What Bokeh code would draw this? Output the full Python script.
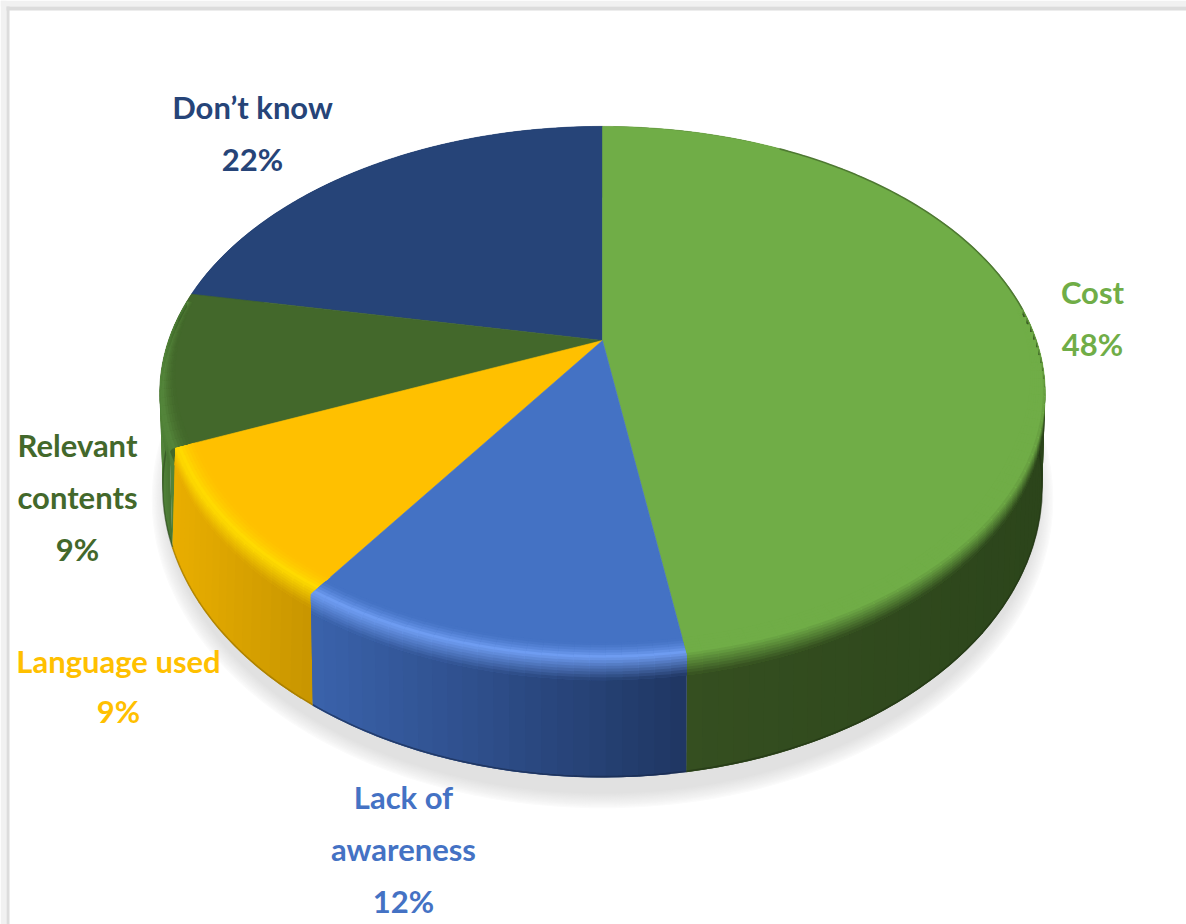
import numpy as np
from bokeh.plotting import figure
from bokeh.models import Range1d
from bokeh.core.properties import value
from bokeh.embed import file_html
from bokeh.resources import INLINE

# ---- data ----
categories = ["Cost", "Lack of awareness", "Language used", "Relevant contents", "Don\u2019t know"]
shares = [47.5, 12.0, 9.1, 9.4, 22.0]          # slice sizes as drawn
pct_labels = ["48%", "12%", "9%", "9%", "22%"]  # printed labels
label_lines = [["Cost", "48%"], ["Lack of", "awareness", "12%"], ["Language used", "9%"],
               ["Relevant", "contents", "9%"], ["Don\u2019t know", "22%"]]
label_cx = [1092, 403, 118, 77, 252]
label_base = [291, 796, 660, 444, 106]
label_colors = ["#70ad47", "#4472c4", "#ffc000", "#43682b", "#264478"]
face_colors = ["#70ad47", "#4472c4", "#ffc000", "#43682b", "#264478"]
rim_colors = ["#70ad47", "#6f9df2", "#ffdb00", "#53853a", "#264478"]
wall_from = ["#354f20", "#3a62ab", "#e9ae00", "#52833a", "#1c335b"]
wall_to = ["#2c451b", "#1f3662", "#c79500", "#3a6026", "#1c335b"]
radius = [1.0, 1.0, 0.988, 1.0, 1.0]
wall_order = [4, 3, 2, 0, 1]
face_order = [4, 3, 2, 0, 1]

W, H = 1186, 924
CX = 602
k = 0.198


def top(r, th):
    u, v = r * np.sin(th), r * np.cos(th)
    d = 1 + k * v
    return CX + 434 * u / d, 340 - 256.5 * v / d


def bottom(r, th):
    u, v = r * np.sin(th), r * np.cos(th)
    d = 1 + k * v
    return CX + 431 * u / d, 429.6 - 278.7 * v / d


def hex2rgb(c):
    return np.array([int(c[i:i + 2], 16) for i in (1, 3, 5)], float)


def mix(a, b, t):
    c = hex2rgb(a) * (1 - t) + hex2rgb(b) * t
    return "#%02x%02x%02x" % tuple(int(round(x)) for x in c)


def wall_color(idx, xm):
    spans = {0: (688, 350), 1: (313, 375), 2: (175, 140)}
    x0, dx = spans.get(idx, (160, 20))
    return mix(wall_from[idx], wall_to[idx], float(np.clip((xm - x0) / dx, 0, 1)))


p = figure(width=W, height=H, x_range=Range1d(0, W), y_range=Range1d(H, 0),
           x_axis_location=None, y_axis_location=None, toolbar_location=None,
           output_backend="svg", min_border=0, outline_line_color=None,
           background_fill_color="#ffffff", border_fill_color="#ffffff")
p.grid.visible = False

# ---- frame of the screenshot ----
p.quad(left=[0, 0], right=[6, W], top=[0, 0], bottom=[H, 6], fill_color="#f1f1f1", line_color=None)
p.quad(left=[6, 6], right=[9, W], top=[6, 6], bottom=[H, 10], fill_color="#dcdcdc", line_color=None)

# ---- soft shadow ----
n_sh = 14
ts = np.linspace(0, 2 * np.pi, 240)
for i in range(n_sh):
    t = i / (n_sh - 1)
    rx = 452 - 16 * t
    ry = 310 - 16 * t
    p.patch(CX + rx * np.sin(ts), 499 + ry * np.cos(ts), fill_color=mix("#ffffff", "#e1e1e1", t ** 0.8), line_color=None)

fr = np.cumsum([0] + shares) / sum(shares)
ang = 2 * np.pi * fr
STEP = 0.03

# ---- walls: each strip reaches under the next one, so no seams show ----
xs, ys, cs = [], [], []
for idx in wall_order:
    a0, a1 = ang[idx], ang[idx + 1]
    if idx == 3:
        # closes the small wedge between this wall and the slightly smaller next slice
        tx0, ty0 = top(1.0, a0)
        tx1, ty1 = top(radius[2], a0 - 0.02)
        bx0, by0 = bottom(1.0, a0)
        xs.append([tx0, tx1, bx0])
        ys.append([ty0, ty1, by0])
        cs.append(wall_from[3])
    n = max(6, int((a1 - a0) / STEP))
    e = np.linspace(a0, a1, n + 1)
    for j in range(n):
        q0, q1 = e[j], e[min(j + 2, n)]
        x0, y0 = top(radius[idx], q0)
        x1, y1 = top(radius[idx], q1)
        x2, y2 = bottom(1.0, q1)
        x3, y3 = bottom(1.0, q0)
        xs.append([x0, x1, x2, x3])
        ys.append([y0, y1, y2, y3])
        cs.append(wall_color(idx, (x0 + top(radius[idx], e[j + 1])[0]) / 2))
p.patches(xs, ys, fill_color=cs, line_color=None)

# ---- dark bottom edge of the walls ----
for idx in (3, 2, 1, 0):
    q = np.linspace(ang[idx], ang[idx + 1], 60)
    ex, ey = bottom(1.0, q)
    vis = np.cos(q) < 0.1
    if vis.any():
        p.line(ex[vis], ey[vis] - 1, line_color=mix(wall_to[idx], "#000000", 0.25), line_width=1.6, line_alpha=0.6)

# ---- top faces ----
for idx in face_order:
    a0 = ang[idx] - (0.06 if idx == 3 else 0.0)  # runs on under the slightly smaller next slice
    q = np.linspace(a0, ang[idx + 1], 140)
    ex, ey = top(radius[idx], q)
    cx0, cy0 = top(0.0, 0.0)
    p.patch(np.r_[cx0, ex], np.r_[cy0, ey], fill_color=face_colors[idx], line_color=face_colors[idx], line_width=0.6)

# ---- thin dark edge along the back of the largest slice ----
q = np.linspace(0.5, 1.45, 70)
ex, ey = top(0.999, q)
p.line(ex, ey, line_color="#3f6328", line_width=1.6, line_alpha=0.65)

# ---- bevel between the faces and the walls ----
xs, ys, cs = [], [], []
NS = 14
for idx in (3, 2, 0, 1):
    a0, a1 = ang[idx], ang[idx + 1]
    n = max(6, int((a1 - a0) / STEP))
    e = np.linspace(a0, a1, n + 1)
    R = radius[idx]
    for j in range(n):
        qm = (e[j] + e[j + 1]) / 2
        if np.cos(qm) > 0.12:
            continue
        q0, q1 = e[j], e[min(j + 2, n)]
        f = float(np.clip((0.4 - np.cos(qm)) / 0.8, 0.3, 1.0))
        wall = wall_color(idx, top(R, qm)[0])

        def pt(w, qq):
            # w in 0..0.5 runs over the face, 0.5..1 runs down the wall
            if w <= 0.5:
                return top(R - 0.045 * f * (1 - w / 0.5), qq)
            tx, ty = top(R, qq)
            bx, by = bottom(1.0, qq)
            h = (w - 0.5) / 0.5 * 0.17 * f
            return tx + (bx - tx) * h, ty + (by - ty) * h

        for s in range(NS):
            w0, w1 = s / NS, min(s + 2, NS) / NS
            wm = (s + 0.5) / NS
            if wm < 0.4:
                c = mix(face_colors[idx], rim_colors[idx], (wm / 0.4) ** 1.5)
            else:
                c = mix(rim_colors[idx], wall, min(1.0, (wm - 0.4) / 0.6))
            xa, ya = pt(w0, q0)
            xb, yb = pt(w0, q1)
            xc, yc = pt(w1, q1)
            xd, yd = pt(w1, q0)
            xs.append([xa, xb, xc, xd])
            ys.append([ya, yb, yc, yd])
            cs.append(c)
p.patches(xs, ys, fill_color=cs, line_color=None)

# ---- labels ----
LINE_GAP = 52
tx, ty, tt, tc = [], [], [], []
for lines, cx, base, col in zip(label_lines, label_cx, label_base, label_colors):
    gap = 50 if lines[0] == "Language used" else LINE_GAP
    for i, s in enumerate(lines):
        tx.append(cx)
        ty.append(base + i * gap)
        tt.append(s)
        tc.append(col)
p.text(x=tx, y=ty, text=tt, text_color=tc, text_align="center", text_baseline="alphabetic",
       text_font=value("Lato"), text_font_style="bold", text_font_size="31px")

open("out.html", "w").write(file_html(p, INLINE))
